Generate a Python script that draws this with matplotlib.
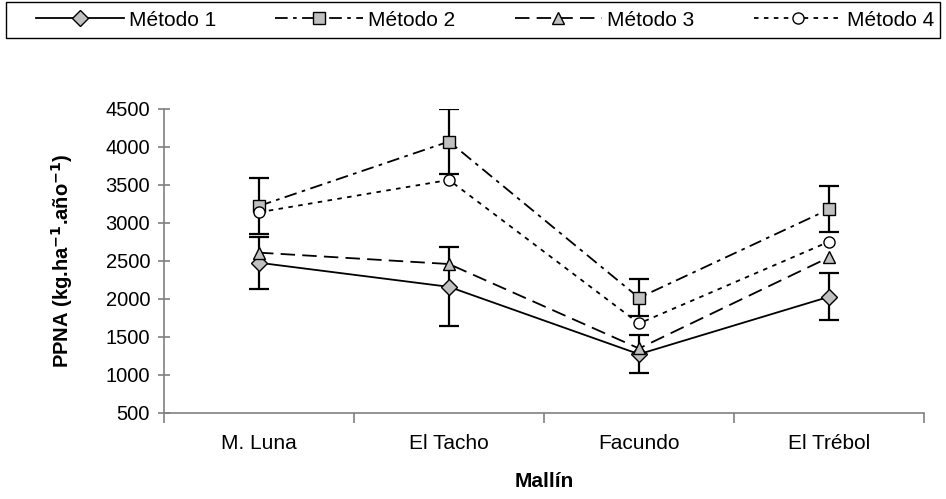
import matplotlib
matplotlib.use("Agg")
import matplotlib.pyplot as plt
from matplotlib.ticker import FixedLocator, NullFormatter
from matplotlib.patches import Rectangle

plt.rcParams['font.family'] = ['Liberation Sans', 'DejaVu Sans']
NARROW = ['Liberation Sans Narrow', 'Liberation Sans', 'DejaVu Sans']

categories = ["M. Luna", "El Tacho", "Facundo", "El Trébol"]
metodo1 = [2477, 2160, 1274, 2029]
metodo2 = [3224, 4072, 2016, 3181]
metodo3 = [2610, 2460, 1349, 2548]
metodo4 = [3141, 3567, 1678, 2754]
err1 = [340, 520, 247, 307]
err2 = [370, 428, 246, 300]
labels = ["Método 1", "Método 2", "Método 3", "Método 4"]
y_ticks = [500, 1000, 1500, 2000, 2500, 3000, 3500, 4000, 4500]

W, H = 946, 499
fig = plt.figure(figsize=(W / 100, H / 100), dpi=100)
ax = fig.add_axes([164 / W, 1 - 413 / H, (924 - 164) / W, (413 - 109) / H])

x = list(range(len(categories)))
grey = '#C0C0C0'

ax.errorbar(x, metodo1, yerr=err1, fmt='none', ecolor='black', elinewidth=1.6,
            capsize=7, capthick=1.6, zorder=2)
ax.errorbar(x, metodo2, yerr=err2, fmt='none', ecolor='black', elinewidth=1.6,
            capsize=7, capthick=1.6, zorder=2)

h1, = ax.plot(x, metodo1, color='black', lw=1.3, ls='-', marker='D', ms=8,
              mfc=grey, mec='black', mew=1.0, zorder=3)
h2, = ax.plot(x, metodo2, color='black', lw=1.3, ls=(0, (7, 3, 2, 3)), marker='s', ms=8,
              mfc=grey, mec='black', mew=1.0, zorder=3)
h3, = ax.plot(x, metodo3, color='black', lw=1.3, ls=(0, (8, 4)), marker='^', ms=9,
              mfc=grey, mec='black', mew=1.0, zorder=3)
h4, = ax.plot(x, metodo4, color='black', lw=1.3, ls=(0, (2.5, 3)), marker='o', ms=8,
              mfc='white', mec='black', mew=1.0, zorder=3)

ax.set_xlim(-0.5, len(categories) - 0.5)
ax.set_ylim(500, 4500)
ax.set_yticks(y_ticks)
ax.set_xticks(x)
ax.set_xticklabels(categories, family=NARROW)
ax.xaxis.set_minor_locator(FixedLocator([i - 0.5 for i in range(len(categories) + 1)]))
ax.xaxis.set_minor_formatter(NullFormatter())
ax.tick_params(axis='x', which='major', length=0, labelsize=15, pad=15)
ax.tick_params(axis='x', which='minor', length=7, width=1.2, color='#808080', direction='out')
ax.tick_params(axis='y', which='major', length=8, width=1.2, color='#808080',
               direction='inout', labelsize=14.5, pad=6)

for s in ['top', 'right']:
    ax.spines[s].set_visible(False)
for s in ['left', 'bottom']:
    ax.spines[s].set_color('#808080')
    ax.spines[s].set_linewidth(1.2)

ax.set_ylabel("PPNA (kg.ha$^{\\mathbf{-1}}$.año$^{\\mathbf{-1}}$)", fontsize=14.5,
              fontweight='bold')
ax.yaxis.set_label_coords(-(164 - 75) / (924 - 164), 0.5)
ax.set_xlabel("Mallín", fontsize=15, fontweight='bold', family=NARROW)
ax.xaxis.set_label_coords(0.5, -(472 - 413) / (413 - 109), transform=ax.transAxes)

# legend frame (Excel-style box across the top)
fig.patches.append(Rectangle((6 / W, 1 - 38 / H), (940 - 6) / W, 36 / H,
                             transform=fig.transFigure, fill=False,
                             edgecolor='black', lw=1.0))
leg = fig.legend([h1, h2, h3, h4], labels, loc='center left',
                 bbox_to_anchor=(36 / W, 1 - 38 / H, (934 - 36) / W, 36 / H),
                 mode='expand', ncol=4, frameon=False,
                 prop={'family': NARROW, 'size': 15}, handlelength=4.2,
                 handletextpad=0.25, numpoints=1, borderaxespad=0, borderpad=0)

fig.savefig("out.png", dpi=100)
